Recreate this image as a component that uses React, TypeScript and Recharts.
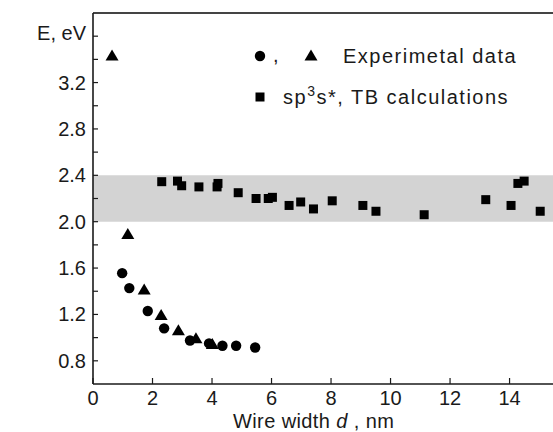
import React from 'react'
import {
  ScatterChart,
  Scatter,
  XAxis,
  YAxis,
  ReferenceArea,
  ReferenceLine,
  Legend,
} from 'recharts'

// experimental data, circles
const circleWidth = [0.98, 1.22, 1.84, 2.39, 3.26, 3.9, 4.35, 4.81, 5.45]
const circleEnergy = [1.556, 1.427, 1.23, 1.08, 0.975, 0.95, 0.93, 0.93, 0.915]

// experimental data, triangles
const triangleWidth = [0.64, 1.17, 1.72, 2.29, 2.87, 3.46, 4.01]
const triangleEnergy = [3.43, 1.89, 1.41, 1.19, 1.06, 0.99, 0.94]

// sp3s* TB calculations, squares
const tbWidth = [
  2.31, 2.84, 2.98, 3.56, 4.17, 4.2, 4.88, 5.48, 5.89, 6.03, 6.59, 6.98, 7.41,
  8.04, 9.07, 9.51, 11.13, 13.2, 14.05, 14.28, 14.49, 15.03,
]
const tbEnergy = [
  2.345, 2.35, 2.31, 2.3, 2.3, 2.33, 2.25, 2.2, 2.2, 2.21, 2.14, 2.17, 2.11,
  2.18, 2.14, 2.09, 2.06, 2.19, 2.14, 2.33, 2.35, 2.09,
]

const bandLow = 2.0
const bandHigh = 2.4

const xTicks = [0, 2, 4, 6, 8, 10, 12, 14]
const yTicks = [0.8, 1.0, 1.2, 1.4, 1.6, 1.8, 2.0, 2.2, 2.4, 2.6, 2.8, 3.0, 3.2, 3.4, 3.6]
const yTickLabels = ['0.8', '', '1.2', '', '1.6', '', '2.0', '', '2.4', '', '2.8', '', '3.2', '', 'E, eV']

const toPoints = (xs: number[], ys: number[]) => xs.map((x, i) => ({ x, y: ys[i] }))
const circleData = toPoints(circleWidth, circleEnergy)
const triangleData = toPoints(triangleWidth, triangleEnergy)
const tbData = toPoints(tbWidth, tbEnergy)

const FONT = '"Liberation Sans", Arial, sans-serif'
const INK = '#1a1a1a'

const CircleDot = (props: any) => <circle cx={props.cx} cy={props.cy} r={5.2} fill="#000" />
const TriangleDot = (props: any) => {
  const { cx, cy } = props
  return <polygon points={`${cx},${cy - 6.5} ${cx - 6.5},${cy + 4.5} ${cx + 6.5},${cy + 4.5}`} fill="#000" />
}
const SquareDot = (props: any) => (
  <rect x={props.cx - 4.5} y={props.cy - 4.5} width={9} height={9} fill="#000" />
)

const XTick = (props: any) => {
  const { x, y, payload } = props
  return (
    <g>
      <line x1={x} y1={y} x2={x} y2={y - 6} stroke={INK} strokeWidth={1.2} />
      <text x={x} y={y + 21} textAnchor="middle" fontSize={20} fontFamily={FONT} fill={INK}>
        {payload.value}
      </text>
    </g>
  )
}

const YTick = (props: any) => {
  const { x, y, index } = props
  const label = yTickLabels[index]
  return (
    <g>
      <line x1={x} y1={y} x2={x + 5} y2={y} stroke={INK} strokeWidth={1.2} />
      {label && (
        <text
          x={x - 7}
          y={label === 'E, eV' ? y + 4 : y + 7}
          textAnchor="end"
          fontSize={20}
          fontFamily={FONT}
          fill={INK}
        >
          {label}
        </text>
      )}
    </g>
  )
}

const XTitle = (props: any) => {
  const { viewBox } = props
  return (
    <text
      x={viewBox.x + 140}
      y={viewBox.y + 44}
      fontSize={20}
      fontFamily={FONT}
      fill={INK}
      letterSpacing={0.4}
    >
      Wire width <tspan fontStyle="italic">d</tspan> , nm
    </text>
  )
}

const LegendBox = () => (
  <svg width={553} height={120} style={{ display: 'block' }}>
    <circle cx={260} cy={56} r={5.2} fill="#000" />
    <text x={273} y={62} fontSize={20} fontFamily={FONT} fill={INK}>,</text>
    <polygon points="311,49.5 304.5,60.5 317.5,60.5" fill="#000" />
    <text x={343} y={63} fontSize={20} fontFamily={FONT} fill={INK} letterSpacing={1.5}>
      Experimetal data
    </text>
    <rect x={255.5} y={92.5} width={9} height={9} fill="#000" />
    <text x={283} y={104} fontSize={20} fontFamily={FONT} fill={INK} letterSpacing={1.5}>
      sp<tspan fontSize={14} dy={-8}>3</tspan>
      <tspan dy={8}>s*, TB calculations</tspan>
    </text>
  </svg>
)

export default function App() {
  return (
    <div style={{ position: 'absolute', left: 0, top: 0, background: '#fff' }}>
      <ScatterChart width={553} height={432} margin={{ top: 13, right: 0, bottom: 0, left: 0 }}>
        <ReferenceArea
          y1={bandLow}
          y2={bandHigh}
          fill="#d3d3d3"
          fillOpacity={1}
          stroke="none"
          ifOverflow="hidden"
        />
        <ReferenceLine y={3.8} stroke="#444" strokeWidth={2} />
        <XAxis
          type="number"
          dataKey="x"
          domain={[0, 15.46]}
          ticks={xTicks}
          allowDataOverflow
          height={48}
          tickSize={0}
          tickMargin={0}
          tickLine={false}
          tick={<XTick />}
          axisLine={{ stroke: INK, strokeWidth: 1.6 }}
          label={<XTitle />}
        />
        <YAxis
          type="number"
          dataKey="y"
          domain={[0.6, 3.8]}
          ticks={yTicks}
          allowDataOverflow
          width={93}
          tickSize={0}
          tickMargin={0}
          tickLine={false}
          tick={<YTick />}
          axisLine={{ stroke: INK, strokeWidth: 1.6 }}
          interval={0}
        />
        <Legend
          layout="horizontal"
          verticalAlign="middle"
          align="center"
          wrapperStyle={{ top: 0, left: 0, width: 553 }}
          content={() => <LegendBox />}
        />
        <Scatter data={tbData} shape={SquareDot} isAnimationActive={false} />
        <Scatter data={circleData} shape={CircleDot} isAnimationActive={false} />
        <Scatter data={triangleData} shape={TriangleDot} isAnimationActive={false} />
      </ScatterChart>
    </div>
  )
}
